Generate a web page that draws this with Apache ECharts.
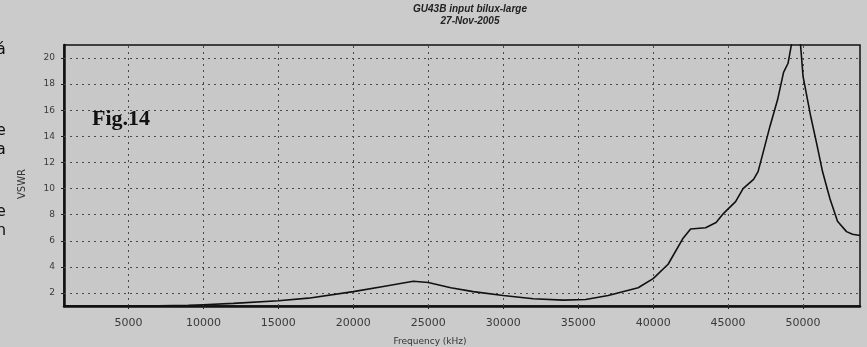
<!DOCTYPE html>
<html><head><meta charset="utf-8">
<script src="https://cdn.jsdelivr.net/npm/echarts@6/dist/echarts.min.js"></script>
<style>html,body{margin:0;padding:0;background:#cdcdcd}#c{width:867px;height:347px}</style>
</head><body><div id="c"></div>
<script>
const freqKHz = [700, 3000, 6000, 9000, 10000, 12000, 15000, 17000, 20000, 22000, 24000, 25000, 26500, 28000, 30000, 32000, 34000, 35500, 37000, 39000, 40000, 41000, 42000, 42500, 43500, 44200, 44700, 45500, 46000, 46700, 47000, 47300, 47800, 48300, 48700, 49000, 49300, 49800, 50000, 50500, 50900, 51300, 51800, 52300, 52900, 53300, 53800];
const vswr = [1.0, 1.0, 1.0, 1.05, 1.1, 1.2, 1.4, 1.6, 2.1, 2.5, 2.9, 2.8, 2.4, 2.1, 1.8, 1.55, 1.45, 1.5, 1.8, 2.4, 3.1, 4.2, 6.2, 6.9, 7.0, 7.4, 8.1, 9.0, 10.0, 10.7, 11.3, 12.6, 14.8, 16.8, 18.9, 19.6, 21.5, 21.5, 18.6, 15.6, 13.5, 11.3, 9.2, 7.5, 6.7, 6.5, 6.4];
const xTicks = [5000, 10000, 15000, 20000, 25000, 30000, 35000, 40000, 45000, 50000];
const yTicks = [2, 4, 6, 8, 10, 12, 14, 16, 18, 20];
const titleLines = ['GU43B input bilux-large', '27-Nov-2005'];
const xName = 'Frequency (kHz)';
const yName = 'VSWR';
const figLabel = 'Fig.14';
const marginLetters = ['á', 'e', 'a', 'e', 'n'];

const chart = echarts.init(document.getElementById('c'), null, {renderer: 'canvas'});
const gridStyle = {type: [2, 4], color: '#4a4a4a', width: 1};
const letterY = [42, 123, 142, 204, 223];
chart.setOption({
  backgroundColor: '#cbcbcb',
  animation: false,
  grid: {left: 64, right: 7, top: 45, bottom: 41, show: true, backgroundColor: '#c8c8c8', borderColor: '#111', borderWidth: 1.5},
  xAxis: {
    type: 'value', min: 700, max: 53800,
    axisLine: {show: true, onZero: false, lineStyle: {color: '#111', width: 2.5}},
    axisTick: {show: true, customValues: xTicks, length: 3, lineStyle: {color: '#222'}},
    axisLabel: {customValues: xTicks, formatter: v => String(v), color: '#3a3a3a', fontSize: 11, fontFamily: 'DejaVu Sans', margin: 12},
    splitLine: {show: false}
  },
  yAxis: {
    type: 'value', min: 1, max: 21,
    axisLine: {show: true, onZero: false, lineStyle: {color: '#111', width: 2.5}},
    axisTick: {show: true, customValues: yTicks, length: 3, lineStyle: {color: '#222'}},
    axisLabel: {customValues: yTicks, color: '#3a3a3a', fontSize: 9, fontFamily: 'DejaVu Sans', margin: 9},
    splitLine: {show: false}
  },
  series: [{
    type: 'line',
    data: freqKHz.map((f, i) => [f, vswr[i]]),
    showSymbol: false,
    clip: true,
    lineStyle: {color: '#111', width: 1.6},
    markLine: {
      silent: true, symbol: 'none', label: {show: false},
      lineStyle: gridStyle, animation: false,
      data: xTicks.map(v => ({xAxis: v})).concat(yTicks.map(v => ({yAxis: v})))
    },
    z: 5
  }],
  graphic: [
    {type: 'text', x: 470, y: 3, style: {text: titleLines.join('\n'), textAlign: 'center', font: 'italic bold 10px "Liberation Sans"', fill: '#222', lineHeight: 12}},
    {type: 'text', x: 430, y: 337, style: {text: xName, textAlign: 'center', font: '9px "DejaVu Sans"', fill: '#333'}},
    {type: 'text', x: 17, y: 184, rotation: Math.PI / 2, style: {text: yName, textAlign: 'center', font: '10px "DejaVu Sans"', fill: '#333'}},
    {type: 'text', x: 92, y: 108, style: {text: figLabel, font: 'bold 22px "Liberation Serif"', fill: '#111'}}
  ].concat(marginLetters.map((t, i) => ({type: 'text', x: -4, y: letterY[i], style: {text: t, font: '16px "DejaVu Sans"', fill: '#111'}})))
});
</script></body></html>
